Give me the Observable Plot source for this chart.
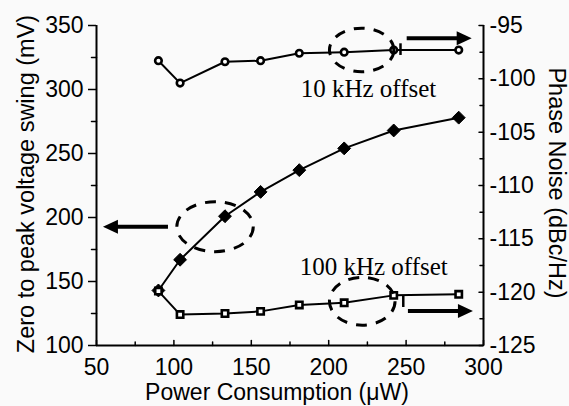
<!DOCTYPE html>
<html><head><meta charset="utf-8">
<script src="https://cdn.jsdelivr.net/npm/d3@7"></script>
<script src="https://cdn.jsdelivr.net/npm/@observablehq/plot@0.6"></script>
<style>html,body{margin:0;padding:0;background:#fafafa;} svg{display:block}</style>
</head><body><div id="chart"></div>
<script>
// ---- data ----
const power = [90, 104, 133, 156, 181, 210, 242, 284];
const swing = [143, 167, 201, 220, 237, 254, 268, 278];
const noise10k = [-98.3, -100.4, -98.4, -98.3, -97.6, -97.5, -97.3, -97.3];
const noise100k = [-119.9, -122.1, -122.0, -121.8, -121.2, -121.0, -120.3, -120.2];

const xTicks = [50, 100, 150, 200, 250, 300];
const xMinor = [75, 125, 175, 225, 275];
const yLeftTicks = [100, 150, 200, 250, 300, 350];
const yLeftMinor = [125, 175, 225, 275, 325];
const yRightTicks = [-95, -100, -105, -110, -115, -120, -125];
const yRightMinor = [-97.5, -102.5, -107.5, -112.5, -117.5, -122.5];

const xLabel = "Power Consumption (μW)";
const yLeftLabel = "Zero to peak voltage swing (mV)";
const yRightLabel = "Phase Noise (dBc/Hz)";

// ---- annotations (data coordinates) ----
const noteText = ["10 kHz offset", "100 kHz offset"];
const noteX = [225.7, 229.1];
const noteY = [294.5, 154.7];
const ellipseCx = [221.6, 126.9, 222.0];
const ellipseCy = [330.5, 192.4, 134.2];
const ellipseRx = [20.8, 24.7, 21.2];
const ellipseRy = [17.0, 19.5, 18.7];
const arrowX1 = [96.5, 250.7, 251.5];
const arrowX2 = [54.5, 292.7, 293.5];
const arrowY = [192.4, 339.6, 126.6];
const barX = [246.7, 248.5];
const barY1 = [335.7, 139.0];
const barY2 = [326.6, 129.7];

// ---- scales ----
const leftDomain = [100, 350];
const rightDomain = [-125, -95];
const toLeft = v => leftDomain[0] + (v - rightDomain[0]) * (leftDomain[1] - leftDomain[0]) / (rightDomain[1] - rightDomain[0]);
const toRight = v => rightDomain[0] + (v - leftDomain[0]) * (rightDomain[1] - rightDomain[0]) / (leftDomain[1] - leftDomain[0]);

const tickShape = {draw(ctx, l) { ctx.moveTo(0, 0); ctx.lineTo(0, -l); }};
const idx = power.map((_, i) => i);

const chart = Plot.plot({
  width: 569, height: 406,
  marginLeft: 96, marginRight: 86, marginTop: 25, marginBottom: 61,
  x: {domain: [50, 300]},
  y: {domain: leftDomain},
  style: {background: "transparent", color: "#000", fontFamily: "'Liberation Sans', Arial, sans-serif", fontSize: "23px"},
  marks: [
    Plot.ruleX([50], {x: d => d, strokeWidth: 2}),
    Plot.ruleX([300], {x: d => d, strokeWidth: 2}),
    Plot.ruleY([100], {y: d => d, strokeWidth: 2}),
    Plot.axisX({ticks: xTicks, tickSize: 0, tickPadding: 13, label: null, fontSize: 23, tickFormat: d => String(d)}),
    Plot.vector(xTicks, {x: d => d, y: () => 100, length: 5, anchor: "start", shape: tickShape, strokeWidth: 1.5}),
    Plot.vector(xMinor, {x: d => d, y: () => 100, length: 3.5, anchor: "start", shape: tickShape, strokeWidth: 1.5}),
    Plot.axisY({anchor: "left", ticks: yLeftTicks, tickSize: 8, tickPadding: 5, label: null, fontSize: 23, strokeWidth: 1.5, tickFormat: d => String(d)}),
    Plot.vector(yLeftMinor, {x: () => 50, y: d => d, rotate: -90, length: 5, anchor: "start", shape: tickShape, strokeWidth: 1.5}),
    Plot.axisY({anchor: "right", ticks: yRightTicks.map(toLeft), tickSize: 0, tickPadding: 6, label: null, fontSize: 23,
      tickFormat: d => String(Math.round(toRight(d)))}),
    Plot.vector(yRightTicks.map(toLeft), {x: () => 300, y: d => d, rotate: -90, length: 4.5, anchor: "start", shape: tickShape, strokeWidth: 1.5}),
    Plot.vector(yRightMinor.map(toLeft), {x: () => 300, y: d => d, rotate: -90, length: 3.5, anchor: "start", shape: tickShape, strokeWidth: 1.5}),
    // axis titles
    Plot.text([yLeftLabel], {text: d => d, frameAnchor: "left", textAnchor: "middle", lineAnchor: "middle", dx: -70.5, dy: -1.5, rotate: -90, fontSize: 23.5}),
    Plot.text([yRightLabel], {text: d => d, frameAnchor: "right", textAnchor: "middle", lineAnchor: "middle", dx: 73, dy: -2.5, rotate: 90, fontSize: 23.5}),
    Plot.text([xLabel], {text: d => d, frameAnchor: "bottom", textAnchor: "middle", dx: -13, dy: 54, lineAnchor: "bottom", fontSize: 23}),
    // series
    Plot.line(idx, {x: i => power[i], y: i => swing[i], stroke: "#000", strokeWidth: 2}),
    Plot.line(idx, {x: i => power[i], y: i => toLeft(noise10k[i]), stroke: "#000", strokeWidth: 2}),
    Plot.line(idx, {x: i => power[i], y: i => toLeft(noise100k[i]), stroke: "#000", strokeWidth: 2}),
    Plot.dot(idx, {x: i => power[i], y: i => swing[i], symbol: "diamond2", r: 5.8, fill: "#000", stroke: "#000", strokeWidth: 1}),
    Plot.dot(idx, {x: i => power[i], y: i => toLeft(noise10k[i]), symbol: "circle", r: 3.3, fill: "#fff", stroke: "#000", strokeWidth: 2.6}),
    Plot.dot(idx, {x: i => power[i], y: i => toLeft(noise100k[i]), symbol: "square", r: 3.6, fill: "#fff", stroke: "#000", strokeWidth: 2.6}),
    // notes
    Plot.text(noteText, {text: d => d, x: (d, i) => noteX[i], y: (d, i) => noteY[i], lineAnchor: "bottom", textAnchor: "middle",
      fontFamily: "'Liberation Serif', 'Times New Roman', serif", fontSize: 25})
  ]
});
document.getElementById("chart").append(chart);

// annotations drawn with the chart's own scales
const sx = chart.scale("x").apply, sy = chart.scale("y").apply;
const g = d3.select(chart).append("g");
ellipseCx.forEach((cx, i) => {
  g.append("ellipse")
    .attr("cx", sx(cx)).attr("cy", sy(ellipseCy[i]))
    .attr("rx", Math.abs(sx(cx + ellipseRx[i]) - sx(cx)))
    .attr("ry", Math.abs(sy(ellipseCy[i] + ellipseRy[i]) - sy(ellipseCy[i])))
    .attr("fill", "none").attr("stroke", "#000").attr("stroke-width", 3)
    .attr("stroke-dasharray", "11 9");
});
arrowX1.forEach((x1, i) => {
  const px1 = sx(x1), px2 = sx(arrowX2[i]), py = sy(arrowY[i]);
  const dir = Math.sign(px2 - px1), head = 15, hw = 7;
  g.append("line").attr("x1", px1).attr("y1", py).attr("x2", px2 - dir * head + dir * 1).attr("y2", py)
    .attr("stroke", "#000").attr("stroke-width", 4);
  g.append("path").attr("d", `M${px2},${py}L${px2 - dir * head},${py - hw}L${px2 - dir * head},${py + hw}Z`).attr("fill", "#000");
});
barX.forEach((bx, i) => {
  g.append("line").attr("x1", sx(bx)).attr("x2", sx(bx)).attr("y1", sy(barY1[i])).attr("y2", sy(barY2[i]))
    .attr("stroke", "#000").attr("stroke-width", 2.5);
});
</script>
</body></html>
